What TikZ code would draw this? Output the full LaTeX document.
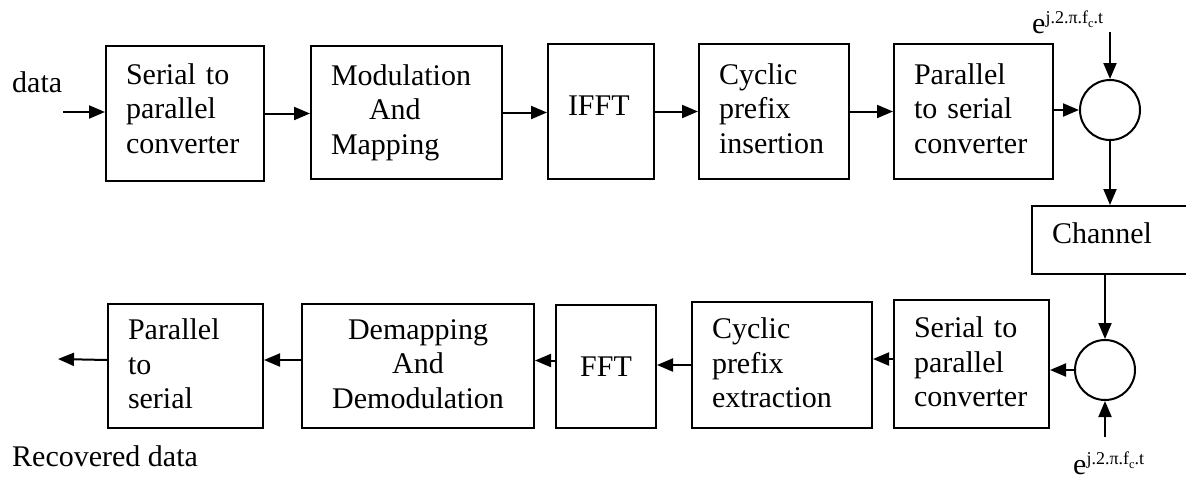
\documentclass[tikz,border=0pt]{standalone}
\usepackage{fontspec}
\setmainfont{Liberation Serif}
\usetikzlibrary{arrows.meta}

% carrier term e^{j.2.pi.f_c.t}
\newcommand{\carrierterm}{e\raisebox{10pt}{\fontsize{18}{18}\selectfont j.2.π.f\raisebox{-4pt}{\fontsize{12.5}{12.5}\selectfont c}.t}}

\begin{document}
\begin{tikzpicture}[x=1pt,y=-1pt,
  blk/.style={draw, line width=2pt, rectangle, anchor=north west,
    inner xsep=20pt, inner ysep=0pt, align=left,
    font=\fontsize{30}{34.5}\selectfont},
  cblk/.style={blk, align=center},
  % extra depth under the last line raises the text block inside its box
  lift/.style={execute at end node={\rule[-#1]{0pt}{0pt}}},
  arr/.style={line width=2pt, -{Triangle[length=16pt,width=13pt]}},
  mix/.style={draw, circle, line width=2pt, minimum size=60pt, inner sep=0pt},
  lbl/.style={anchor=base west, inner sep=0pt, font=\fontsize{30}{34.5}\selectfont}]

\useasboundingbox (0,0) rectangle (1186,480);

% transmitter chain
\node[blk, lift=10pt, minimum height=135pt, text width=118pt] (b1) at (105,45) {Serial to\\parallel\\converter};
\node[blk, minimum height=133pt, text width=151pt] (b2) at (310,45) {Modulation\\\hspace*{38pt}And\\Mapping};
\node[blk, minimum height=135pt, text width=66pt, text depth=12pt] (b3) at (547,43) {IFFT};
\node[blk, lift=6pt, minimum height=135pt, text width=110pt] (b4) at (698,43) {Cyclic\\prefix\\insertion};
\node[blk, lift=6pt, minimum height=135pt, text width=119pt] (b5) at (893,43) {Parallel\\to serial\\converter};
\node[mix] (m1) at (1110,110) {};

% channel
\node[blk, minimum height=68pt, text width=125pt, text depth=14pt] (ch) at (1031,205) {Channel};

% receiver chain
\node[mix] (m2) at (1105,370) {};
\node[blk, lift=4pt, minimum height=128pt, text width=115pt] (c1) at (893,299) {Serial to\\parallel\\converter};
\node[blk, lift=4pt, minimum height=126pt, text width=140pt] (c2) at (691,301) {Cyclic\\prefix\\extraction};
\node[cblk, minimum height=123pt, text width=60pt] (c3) at (555,304) {FFT};
\node[cblk, lift=4pt, minimum height=124pt, text width=192pt] (c4) at (301,303) {Demapping\\And\\Demodulation};
\node[blk, lift=4pt, minimum height=124pt, text width=115pt] (c5) at (107,303) {Parallel\\to\\serial};

% labels
\node[lbl] (din-l) at (12,92) {data};
\node[lbl] (dout-l) at (12,466) {Recovered data};
\node[lbl] (e1) at (1032,33) {\carrierterm};
\node[lbl] (e2) at (1073,474) {\carrierterm};

% free ends
\coordinate (din) at (63,112);
\coordinate (dout) at (58,359);
\coordinate (s1) at (1110,32);
\coordinate (s2) at (1105,437);

% transmitter connectors
\draw[arr] (din) -- (b1.west |- din);
\draw[arr] (b1.east) -- (b1.east -| b2.west);
\draw[arr] (b2.east) -- (b2.east -| b3.west);
\draw[arr] (b3.east) -- (b3.east -| b4.west);
\draw[arr] (b4.east) -- (b4.east -| b5.west);
\draw[arr] (b5.east |- m1.west) -- (m1.west);
\draw[arr] (s1) -- (m1.north);
\draw[arr] (m1.south) -- (m1.south |- ch.north);

% receiver connectors
\draw[arr] (m2.north |- ch.south) -- (m2.north);
\draw[arr] (s2) -- (m2.south);
\draw[arr] (m2.west) -- (m2.west -| c1.east);
\draw[arr] ([yshift=5pt]c1.west) -- ([yshift=5pt]c1.west -| c2.east);
\draw[arr] (c2.west) -- (c2.west -| c3.east);
\draw[arr] ([yshift=6pt]c3.west) -- ([yshift=6pt]c3.west -| c4.east);
\draw[arr] ([yshift=6pt]c4.west) -- ([yshift=6pt]c4.west -| c5.east);
\draw[arr] ([yshift=6pt]c5.west) -- (dout);
\end{tikzpicture}
\end{document}
